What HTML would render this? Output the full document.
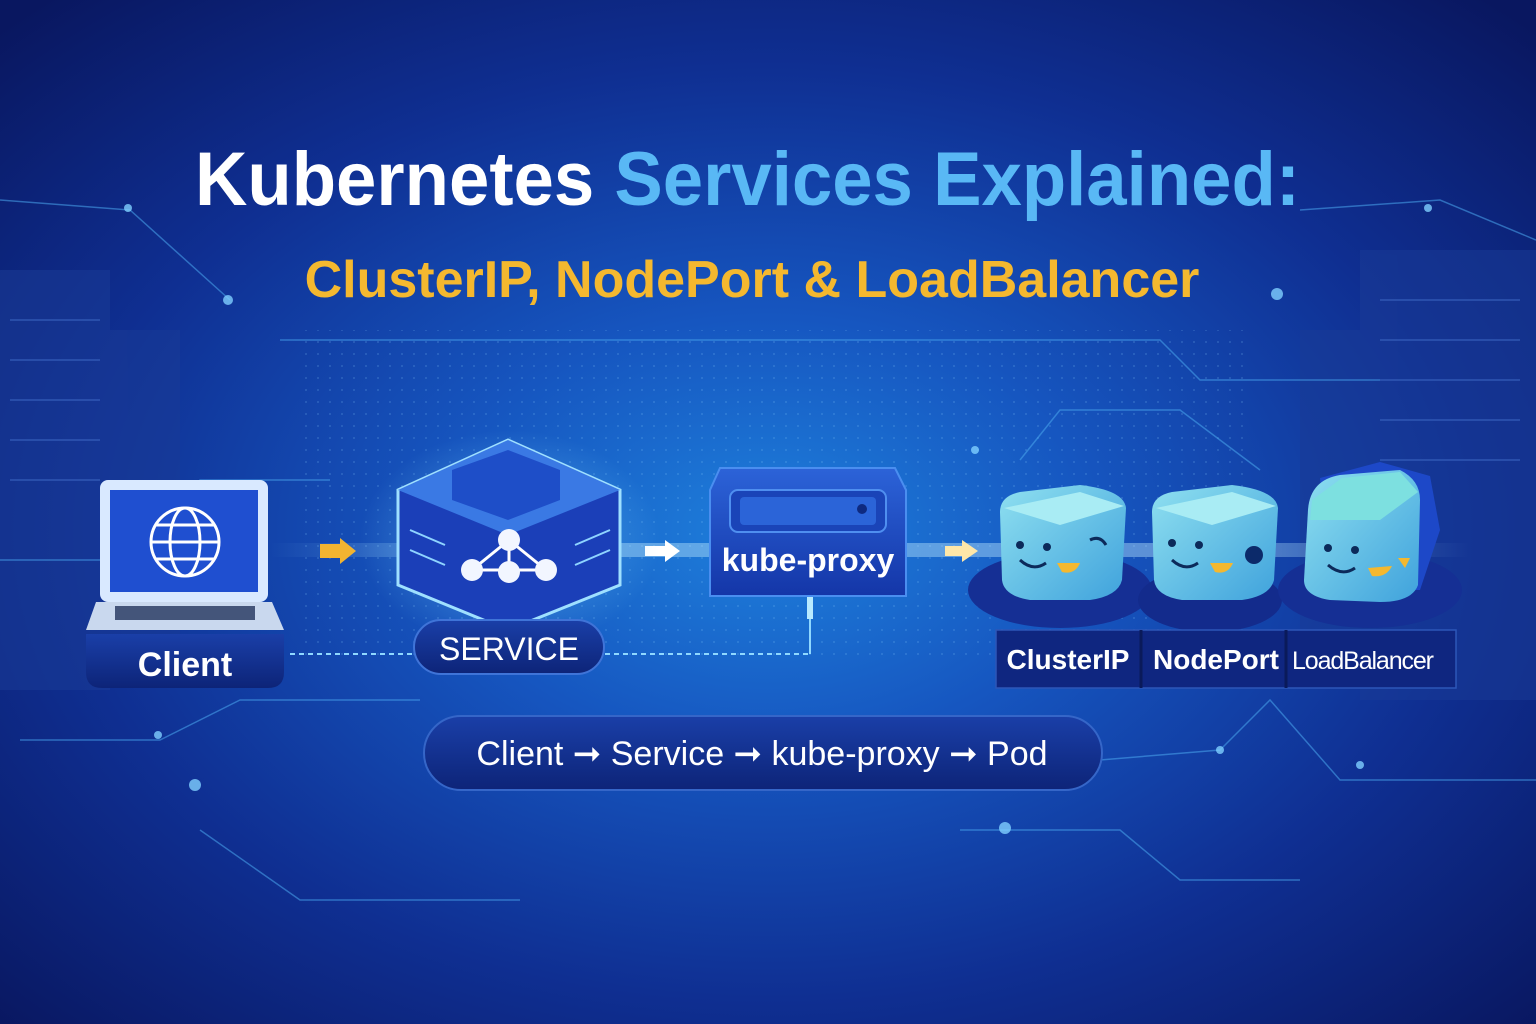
<!DOCTYPE html>
<html><head><meta charset="utf-8"><style>
html,body{margin:0;padding:0;width:1536px;height:1024px;overflow:hidden;background:#0b1c6b}
svg{display:block}
text{font-family:"Liberation Sans","DejaVu Sans",sans-serif}
</style></head><body>
<svg width="1536" height="1024" viewBox="0 0 1536 1024" xmlns="http://www.w3.org/2000/svg">
<defs>
<radialGradient id="bg" cx="0.5" cy="0.52" r="0.7">
<stop offset="0" stop-color="#1e80dc"/>
<stop offset="0.3" stop-color="#1656c0"/>
<stop offset="0.65" stop-color="#0f2f92"/>
<stop offset="1" stop-color="#091760"/>
</radialGradient>
<linearGradient id="beam" x1="0" x2="1">
<stop offset="0" stop-color="#9fe0ff" stop-opacity="0"/>
<stop offset="0.2" stop-color="#bfeaff" stop-opacity="0.7"/>
<stop offset="0.8" stop-color="#bfeaff" stop-opacity="0.7"/>
<stop offset="1" stop-color="#9fe0ff" stop-opacity="0"/>
</linearGradient>
<linearGradient id="box" x1="0" y1="0" x2="0" y2="1">
<stop offset="0" stop-color="#2c63d8"/><stop offset="1" stop-color="#1436a8"/>
</linearGradient>
<linearGradient id="pill" x1="0" y1="0" x2="0" y2="1">
<stop offset="0" stop-color="#1a3fa8"/><stop offset="1" stop-color="#0d2478"/>
</linearGradient>
<linearGradient id="cube" x1="0" y1="0" x2="1" y2="1">
<stop offset="0" stop-color="#8fe0f0"/><stop offset="1" stop-color="#3fa2dc"/>
</linearGradient>
<radialGradient id="glow" cx="0.5" cy="0.5" r="0.5">
<stop offset="0" stop-color="#7fd8ff" stop-opacity="0.5"/><stop offset="1" stop-color="#7fd8ff" stop-opacity="0"/>
</radialGradient>
<pattern id="dots" width="12" height="12" patternUnits="userSpaceOnUse"><circle cx="6" cy="6" r="1" fill="#8fd4ff" opacity="0.35"/></pattern>
</defs>
<rect width="1536" height="1024" fill="url(#bg)"/>
<rect x="300" y="330" width="950" height="330" fill="url(#dots)" opacity="0.6"/>
<g fill="#1a3b96" opacity="0.55">
<rect x="0" y="270" width="110" height="420"/><rect x="110" y="330" width="70" height="340"/>
<rect x="1360" y="250" width="176" height="450"/><rect x="1300" y="330" width="70" height="330"/>
</g>
<g stroke="#3d68c4" stroke-width="2" opacity="0.5">
<line x1="10" y1="320" x2="100" y2="320"/><line x1="10" y1="360" x2="100" y2="360"/><line x1="10" y1="400" x2="100" y2="400"/><line x1="10" y1="440" x2="100" y2="440"/><line x1="10" y1="480" x2="100" y2="480"/>
<line x1="1380" y1="300" x2="1520" y2="300"/><line x1="1380" y1="340" x2="1520" y2="340"/><line x1="1380" y1="380" x2="1520" y2="380"/><line x1="1380" y1="420" x2="1520" y2="420"/><line x1="1380" y1="460" x2="1520" y2="460"/>
</g>
<g stroke="#4aa8ee" stroke-width="1.5" fill="none" opacity="0.55">
<polyline points="0,560 120,560 200,480 330,480"/>
<polyline points="280,340 1160,340 1200,380 1380,380"/>
<polyline points="20,740 160,740 240,700 420,700"/>
<polyline points="1100,760 1220,750 1270,700 1340,780 1536,780"/>
<polyline points="1020,460 1060,410 1180,410 1260,470"/>
<polyline points="200,830 300,900 520,900"/>
<polyline points="960,830 1120,830 1180,880 1300,880"/>
<polyline points="0,200 130,210 230,300"/>
<polyline points="1300,210 1440,200 1536,240"/>
</g>
<g fill="#7fd0ff" opacity="0.8">
<circle cx="228" cy="300" r="5"/><circle cx="1277" cy="294" r="6"/><circle cx="195" cy="785" r="6"/><circle cx="1005" cy="828" r="6"/><circle cx="1220" cy="750" r="4"/><circle cx="128" cy="208" r="4"/><circle cx="1428" cy="208" r="4"/><circle cx="158" cy="735" r="4"/><circle cx="1360" cy="765" r="4"/><circle cx="975" cy="450" r="4"/>
</g>
<rect x="270" y="543" width="1200" height="14" fill="url(#beam)" opacity="0.6"/>
<line x1="290" y1="654" x2="810" y2="654" stroke="#8fd8ff" stroke-width="2" stroke-dasharray="5,4"/>
<polyline points="810,654 810,600" stroke="#8fd8ff" stroke-width="2" fill="none"/>
<rect x="807" y="597" width="6" height="22" fill="#b8eaff"/>
<polygon points="320,544 340,544 340,538 356,551 340,564 340,558 320,558" fill="#f2b431"/>
<polygon points="645,546 665,546 665,540 680,551 665,562 665,556 645,556" fill="#ffffff"/>
<polygon points="945,546 962,546 962,540 978,551 962,562 962,556 945,556" fill="#ffe7a8"/>
<text x="195" y="205" font-size="76" font-weight="bold" fill="#ffffff" textLength="1105" lengthAdjust="spacingAndGlyphs">Kubernetes <tspan fill="#59b8f5">Services Explained:</tspan></text>
<text x="752" y="297" text-anchor="middle" font-size="52" font-weight="bold" fill="#f4b82f">ClusterIP, NodePort &amp; LoadBalancer</text>
<rect x="100" y="480" width="168" height="122" rx="8" fill="#d9e9ff"/>
<rect x="110" y="490" width="148" height="102" fill="#1f4fd0"/>
<circle cx="185" cy="542" r="34" fill="none" stroke="#fff" stroke-width="3"/>
<ellipse cx="185" cy="542" rx="15" ry="34" fill="none" stroke="#fff" stroke-width="3"/>
<line x1="151" y1="542" x2="219" y2="542" stroke="#fff" stroke-width="3"/>
<line x1="156" y1="525" x2="214" y2="525" stroke="#fff" stroke-width="3"/>
<line x1="156" y1="559" x2="214" y2="559" stroke="#fff" stroke-width="3"/>
<polygon points="96,602 272,602 284,630 86,630" fill="#c9d8ee"/>
<rect x="115" y="606" width="140" height="14" fill="#44557a"/>
<path d="M86,634 L284,634 L284,672 Q284,688 268,688 L102,688 Q86,688 86,672 Z" fill="url(#pill)"/>
<text x="185" y="676" text-anchor="middle" font-size="34" font-weight="bold" fill="#fff">Client</text>
<ellipse cx="510" cy="540" rx="150" ry="110" fill="url(#glow)"/>
<polygon points="508,440 620,490 620,585 508,630 398,585 398,490" fill="#1b3fb8" stroke="#9fe0ff" stroke-width="3"/>
<polygon points="508,440 620,490 508,535 398,490" fill="#3a79e4"/>
<polygon points="452,470 508,450 560,470 560,500 508,520 452,500" fill="#1e4ec8"/>
<g stroke="#8fd4ff" stroke-width="2"><line x1="410" y1="530" x2="445" y2="545"/><line x1="410" y1="550" x2="445" y2="565"/><line x1="575" y1="545" x2="610" y2="530"/><line x1="575" y1="565" x2="610" y2="550"/></g>
<g stroke="#fff" stroke-width="3"><line x1="509" y1="540" x2="472" y2="570"/><line x1="509" y1="540" x2="546" y2="570"/><line x1="472" y1="570" x2="546" y2="570"/><line x1="509" y1="540" x2="509" y2="570"/></g>
<g fill="#f2f6ff"><circle cx="509" cy="540" r="11"/><circle cx="472" cy="570" r="11"/><circle cx="509" cy="572" r="11"/><circle cx="546" cy="570" r="11"/></g>
<rect x="414" y="620" width="190" height="54" rx="27" fill="url(#pill)" stroke="#3f74d8" stroke-width="2"/>
<text x="509" y="660" text-anchor="middle" font-size="32" fill="#fff">SERVICE</text>
<path d="M720,468 L895,468 L906,490 L906,596 L710,596 L710,490 Z" fill="url(#box)" stroke="#4a8ef0" stroke-width="2"/>
<rect x="730" y="490" width="156" height="42" rx="8" fill="#1a44b8" stroke="#4f8ff0" stroke-width="2"/>
<rect x="740" y="497" width="136" height="28" rx="4" fill="#2b64d8"/>
<circle cx="862" cy="509" r="5" fill="#0e2a80"/>
<text x="808" y="571" text-anchor="middle" font-size="32" font-weight="bold" fill="#fff">kube-proxy</text>
<ellipse cx="1060" cy="590" rx="92" ry="38" fill="#152f94"/>
<ellipse cx="1210" cy="600" rx="72" ry="32" fill="#132b8c"/>
<ellipse cx="1370" cy="590" rx="92" ry="38" fill="#152f94"/>
<rect x="996" y="630" width="460" height="58" fill="#0f2680" stroke="#2d56b8" stroke-width="1.5"/>
<line x1="1141" y1="630" x2="1141" y2="688" stroke="#0a1a5a" stroke-width="3"/>
<line x1="1286" y1="630" x2="1286" y2="688" stroke="#0a1a5a" stroke-width="3"/>
<text x="1068" y="669" text-anchor="middle" font-size="28" font-weight="bold" fill="#fff">ClusterIP</text>
<text x="1216" y="669" text-anchor="middle" font-size="28" font-weight="bold" fill="#fff">NodePort</text>
<text x="1363" y="669" text-anchor="middle" font-size="25" fill="#fff" textLength="142">LoadBalancer</text>
<g>
<path d="M1000,512 Q1000,496 1020,492 L1080,485 Q1124,490 1126,508 L1122,580 Q1118,596 1090,600 L1030,600 Q1004,596 1002,580 Z" fill="url(#cube)"/>
<path d="M1004,508 L1080,492 L1124,506 L1060,525 Z" fill="#a9ecf4"/>
<circle cx="1020" cy="545" r="4" fill="#0c2a5a"/><circle cx="1047" cy="547" r="4" fill="#0c2a5a"/>
<path d="M1020,560 Q1033,572 1046,563" stroke="#0c2a5a" stroke-width="3" fill="none"/>
<path d="M1057,563 L1080,563 Q1075,575 1062,572 Z" fill="#f4b82f"/>
<path d="M1090,540 Q1100,535 1106,545" stroke="#0c2a5a" stroke-width="3" fill="none"/>
</g>
<g>
<path d="M1152,512 Q1152,496 1172,492 L1232,485 Q1276,490 1278,508 L1274,580 Q1270,596 1242,600 L1182,600 Q1156,596 1154,580 Z" fill="url(#cube)"/>
<path d="M1156,508 L1232,492 L1276,506 L1212,525 Z" fill="#a9ecf4"/>
<circle cx="1172" cy="543" r="4" fill="#0c2a5a"/><circle cx="1199" cy="545" r="4" fill="#0c2a5a"/>
<path d="M1172,560 Q1185,572 1198,563" stroke="#0c2a5a" stroke-width="3" fill="none"/>
<path d="M1210,563 L1233,563 Q1228,575 1215,572 Z" fill="#f4b82f"/>
<circle cx="1254" cy="555" r="9" fill="#0c2a6a"/>
</g>
<g>
<polygon points="1320,478 1380,462 1430,476 1440,530 1420,590 1330,590" fill="#1d48c8"/>
<path d="M1308,510 Q1310,480 1340,475 L1400,470 Q1420,480 1420,500 L1418,585 Q1412,602 1380,602 L1330,600 Q1304,596 1304,580 Z" fill="url(#cube)"/>
<path d="M1312,500 L1342,478 L1400,472 L1418,492 L1380,520 L1310,520 Z" fill="#7de0e0"/>
<circle cx="1328" cy="548" r="4" fill="#0c2a5a"/><circle cx="1355" cy="550" r="4" fill="#0c2a5a"/>
<path d="M1328,565 Q1342,577 1355,568" stroke="#0c2a5a" stroke-width="3" fill="none"/>
<path d="M1368,568 L1392,566 Q1386,578 1372,576 Z" fill="#f4b82f"/>
<path d="M1398,558 L1405,568 L1410,558" fill="#f4b82f"/>
</g>
<rect x="424" y="716" width="678" height="74" rx="37" fill="url(#pill)" stroke="#3566c8" stroke-width="2"/>
<text x="762" y="765" text-anchor="middle" font-size="34" fill="#fff">Client ➞ Service ➞ kube-proxy ➞ Pod</text>
</svg>
</body></html>
